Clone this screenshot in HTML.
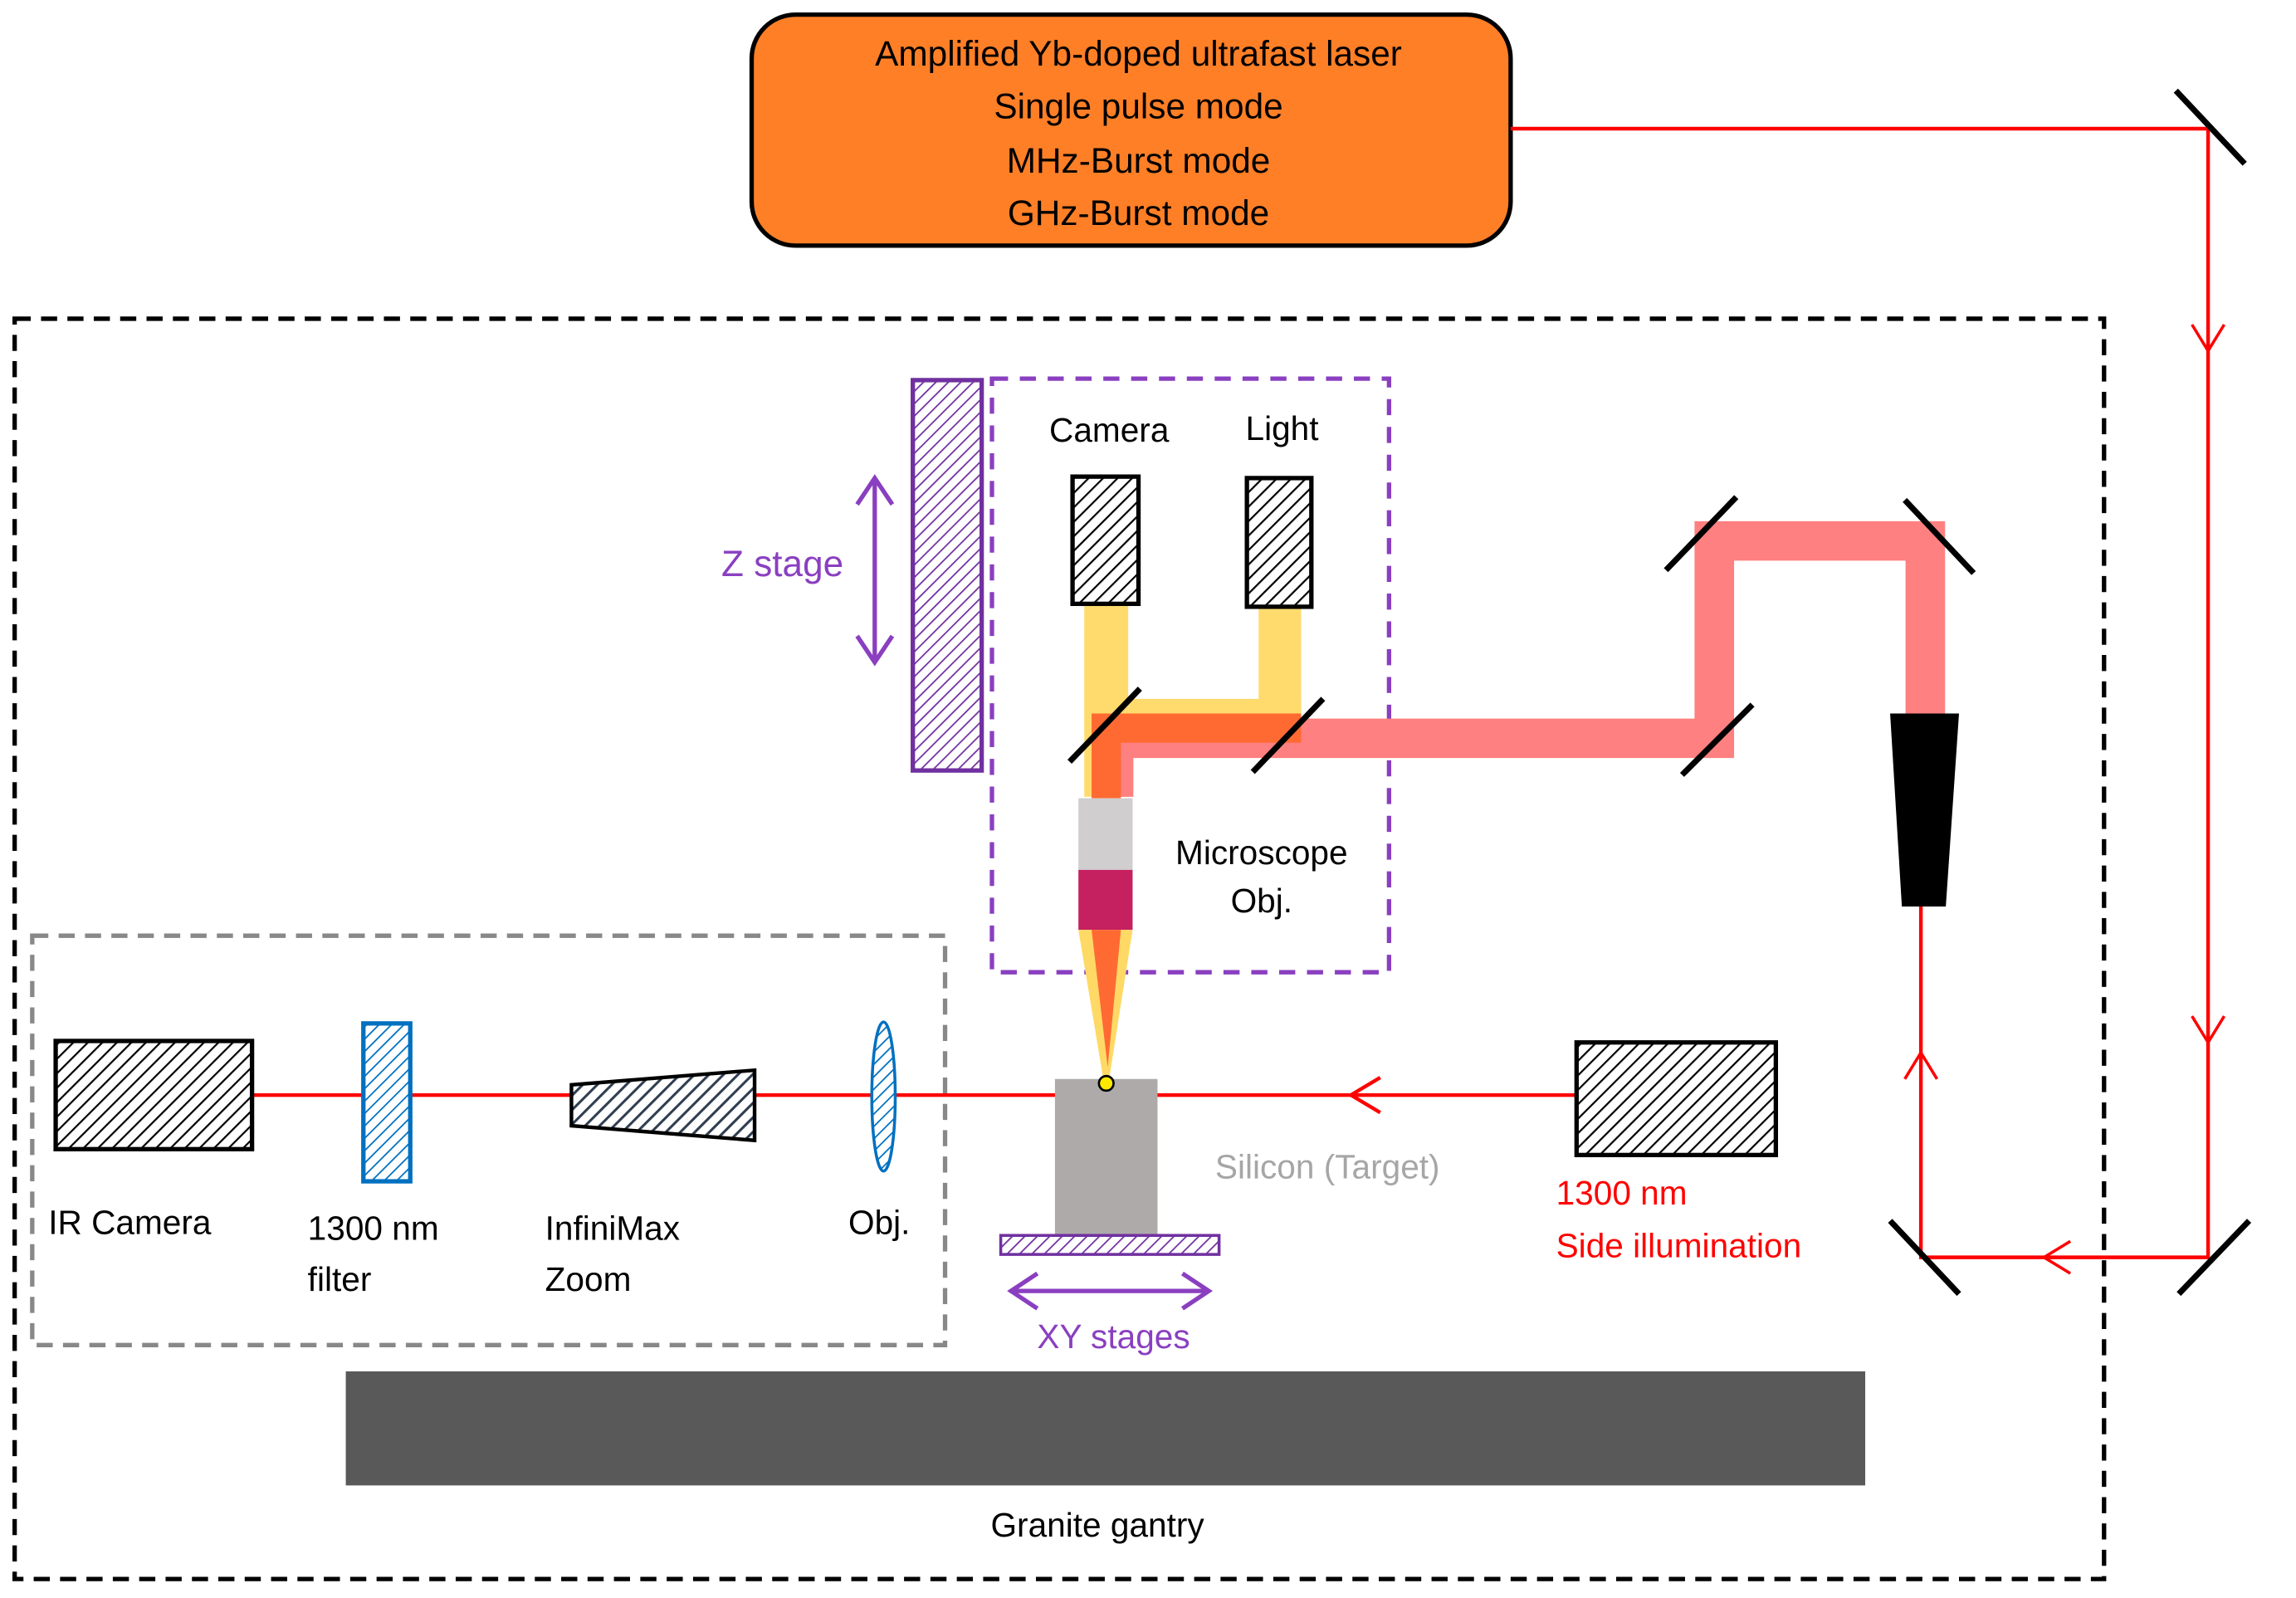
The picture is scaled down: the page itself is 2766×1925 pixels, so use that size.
<!DOCTYPE html>
<html><head><meta charset="utf-8"><style>
html,body{margin:0;padding:0;background:#fff;}
svg{display:block;}
text{font-family:"Liberation Sans",sans-serif;font-size:23px;}
</style></head><body>
<svg width="2766" height="1925" viewBox="0 0 1567 1093" preserveAspectRatio="none" xmlns="http://www.w3.org/2000/svg">
<defs>
<pattern id="hb" width="7" height="7" patternUnits="userSpaceOnUse" patternTransform="rotate(45)">
<rect width="7" height="7" fill="#fff"/><line x1="0" y1="0" x2="0" y2="7" stroke="#000" stroke-width="2.5"/></pattern>
<pattern id="hp" width="6" height="6" patternUnits="userSpaceOnUse" patternTransform="rotate(45)">
<rect width="6" height="6" fill="#fff"/><line x1="0" y1="0" x2="0" y2="6" stroke="#7030A0" stroke-width="2"/></pattern>
<pattern id="hbl" width="6" height="6" patternUnits="userSpaceOnUse" patternTransform="rotate(45)">
<rect width="6" height="6" fill="#fff"/><line x1="0" y1="0" x2="0" y2="6" stroke="#0070C0" stroke-width="2"/></pattern>
<pattern id="hs" width="7" height="7" patternUnits="userSpaceOnUse" patternTransform="rotate(45)">
<rect width="7" height="7" fill="#fff"/><line x1="0" y1="0" x2="0" y2="7" stroke="#2F3E50" stroke-width="3.5"/></pattern>
</defs>

<!-- laser box -->
<rect x="513" y="10" width="518" height="158" rx="30" fill="#FF7F27" stroke="#000" stroke-width="3"/>
<g text-anchor="middle" font-size="24">
<text x="777" y="45" style="font-size:24px">Amplified Yb-doped ultrafast laser</text>
<text x="777" y="81" style="font-size:24px">Single pulse mode</text>
<text x="777" y="118" style="font-size:24px">MHz-Burst mode</text>
<text x="777" y="154" style="font-size:24px">GHz-Burst mode</text>
</g>

<!-- red beam path -->
<polyline points="1031,88 1507,88 1507,860 1311,860 1311,620" fill="none" stroke="#FF0000" stroke-width="2.5"/>
<g fill="none" stroke="#FF0000" stroke-width="2">
<polyline points="1496,222 1507,240 1518,222"/>
<polyline points="1496,695 1507,713 1518,695"/>
<polyline points="1413,849 1395,860 1413,871"/>
<polyline points="1300,738 1311,720 1322,738"/>
</g>
<g stroke="#000" stroke-width="4">
<line x1="1485" y1="62" x2="1532" y2="112"/>
<line x1="1487" y1="885" x2="1535" y2="835"/>
<line x1="1290" y1="835" x2="1337" y2="885"/>
</g>

<!-- outer dashed box -->
<rect x="10" y="218" width="1426" height="862" fill="none" stroke="#000" stroke-width="3" stroke-dasharray="11,7"/>

<!-- Z stage -->
<rect x="623" y="260" width="47" height="267" fill="url(#hp)" stroke="#7030A0" stroke-width="3"/>
<g stroke="#8A3FC0" stroke-width="3" fill="none">
<line x1="597" y1="327" x2="597" y2="453"/>
<polyline points="585,345 597,327 609,345"/>
<polyline points="585,435 597,453 609,435"/>
</g>
<text x="534" y="394" text-anchor="middle" fill="#8A3FC0" style="font-size:25px">Z stage</text>

<!-- purple dashed box -->
<rect x="677" y="259" width="271" height="406" fill="none" stroke="#8A3FC0" stroke-width="3" stroke-dasharray="11,8"/>

<!-- yellow beams -->
<g fill="#FFD966" opacity="0.95">
<rect x="740" y="413" width="30" height="132"/>
<rect x="859" y="415" width="29" height="80"/>
<rect x="770" y="478" width="118" height="18"/>
</g>
<!-- pink beam -->
<polyline points="1314,492 1314,370 1170,370 1170,505 760,505 760,545" fill="none" stroke="#FF8080" stroke-width="27"/>
<!-- orange portion -->
<polyline points="888,498 755,498 755,546" fill="none" stroke="#FF6A33" stroke-width="20"/>

<!-- mirrors -->
<g stroke="#000" stroke-width="4">
<line x1="1137" y1="390" x2="1185" y2="340"/>
<line x1="1300" y1="342" x2="1347" y2="392"/>
<line x1="1148" y1="530" x2="1196" y2="482"/>
<line x1="855" y1="528" x2="903" y2="478"/>
<line x1="730" y1="521" x2="778" y2="471"/>
</g>

<!-- objective black -->
<polygon points="1290,488 1337,488 1328,620 1298,620" fill="#000"/>

<!-- camera & light boxes -->
<rect x="732" y="326" width="45" height="87" fill="url(#hb)" stroke="#000" stroke-width="3"/>
<rect x="851" y="327" width="44" height="88" fill="url(#hb)" stroke="#000" stroke-width="3"/>
<text x="757" y="302" text-anchor="middle">Camera</text>
<text x="875" y="301" text-anchor="middle">Light</text>

<!-- microscope objective -->
<rect x="736" y="546" width="37" height="49" fill="#D0CECE"/>
<rect x="736" y="595" width="37" height="41" fill="#C52060"/>
<polygon points="736,636 773,636 757,738 753,738" fill="#FFD966"/>
<polygon points="745,636 765,636 756,730" fill="#FF6A33"/>
<text x="861" y="591" text-anchor="middle">Microscope</text>
<text x="861" y="624" text-anchor="middle">Obj.</text>

<!-- gray dashed box -->
<rect x="22" y="640" width="623" height="280" fill="none" stroke="#888" stroke-width="3" stroke-dasharray="11,7"/>

<!-- horizontal red line -->
<line x1="172" y1="749" x2="1076" y2="749" stroke="#FF0000" stroke-width="2.5"/>
<polyline points="942,737 922,749 942,761" fill="none" stroke="#FF0000" stroke-width="2.5"/>

<!-- IR camera etc -->
<rect x="38" y="712" width="134" height="74" fill="url(#hb)" stroke="#000" stroke-width="3"/>
<rect x="248" y="700" width="32" height="108" fill="url(#hbl)" stroke="#0070C0" stroke-width="3"/>
<polygon points="390,742 515,732 515,780 390,770" fill="url(#hs)" stroke="#000" stroke-width="2.5"/>
<ellipse cx="603" cy="750" rx="8" ry="51" fill="url(#hbl)" stroke="#0070C0" stroke-width="2"/>

<!-- silicon -->
<rect x="720" y="738" width="70" height="107" fill="#AEAAAA"/>
<circle cx="755" cy="741" r="5" fill="#FFE800" stroke="#000" stroke-width="1.5"/>
<rect x="683" y="845" width="149" height="13" fill="url(#hp)" stroke="#7030A0" stroke-width="2"/>
<g stroke="#8A3FC0" stroke-width="3" fill="none">
<line x1="690" y1="883" x2="825" y2="883"/>
<polyline points="708,871 690,883 708,895"/>
<polyline points="807,871 825,883 807,895"/>
</g>
<text x="760" y="922" text-anchor="middle" fill="#8A3FC0">XY stages</text>

<!-- side illumination -->
<rect x="1076" y="713" width="136" height="77" fill="url(#hb)" stroke="#000" stroke-width="3"/>
<text x="906" y="806" text-anchor="middle" fill="#A6A6A6">Silicon (Target)</text>
<text x="1062" y="824" fill="#FF0000">1300 nm</text>
<text x="1062" y="860" fill="#FF0000">Side illumination</text>

<!-- labels -->
<text x="33" y="844">IR Camera</text>
<text x="210" y="848">1300 nm</text>
<text x="210" y="883">filter</text>
<text x="372" y="848">InfiniMax</text>
<text x="372" y="883">Zoom</text>
<text x="579" y="844">Obj.</text>

<!-- granite -->
<rect x="236" y="938" width="1037" height="78" fill="#595959"/>
<text x="749" y="1051" text-anchor="middle">Granite gantry</text>
</svg>
</body></html>
